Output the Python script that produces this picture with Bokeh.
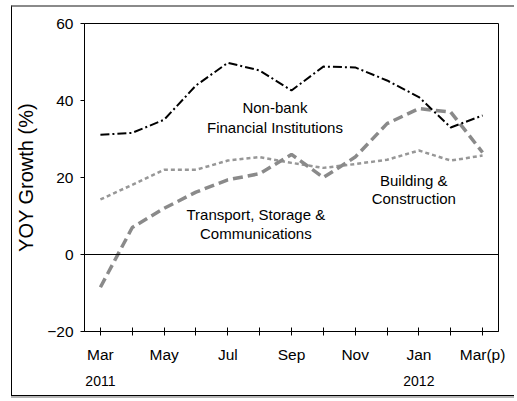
from bokeh.plotting import figure
from bokeh.models import Range1d, FixedTicker, LinearAxis, Span, ColumnDataSource
from bokeh.core.properties import value
from bokeh.embed import file_html
from bokeh.resources import INLINE

months = ["Mar", "Apr", "May", "Jun", "Jul", "Aug", "Sep", "Oct", "Nov", "Dec", "Jan", "Feb", "Mar(p)"]
month_idx = list(range(len(months)))
nonbank = [31.1, 31.6, 35.0, 43.9, 49.8, 47.8, 42.6, 48.8, 48.6, 45.2, 40.9, 33.0, 36.1]
transport = [-8.5, 7.0, 12.0, 16.2, 19.4, 21.0, 26.0, 20.0, 25.3, 34.0, 37.9, 37.0, 26.5]
building = [14.3, 18.1, 22.0, 22.0, 24.4, 25.3, 23.8, 22.5, 23.5, 24.6, 27.0, 24.4, 25.7]
month_labels = ["Mar", "", "May", "", "Jul", "", "Sep", "", "Nov", "", "Jan", "", "Mar(p)"]
year_labels = {0: "2011", 10: "2012"}
y_ticks = [-20, 0, 20, 40, 60]

FONT = "Liberation Sans"

p = figure(width=503, height=391, output_backend="svg", toolbar_location=None,
           x_range=Range1d(-0.5, 12.5), y_range=Range1d(-20, 60),
           min_border_left=71, min_border_right=17, min_border_top=16, min_border_bottom=67)
p.margin = (5, 0, 0, 11)
p.styles = {"border-top": "2px solid #8a8a8a", "border-left": "1px solid black",
            "border-bottom": "1px solid black", "box-shadow": "0 2px 0 #b5b5b5"}
p.xgrid.visible = False
p.ygrid.visible = False
p.outline_line_color = "black"
p.outline_line_width = 1
p.background_fill_color = "white"

src = ColumnDataSource(dict(x=month_idx, nonbank=nonbank, transport=transport, building=building))

p.line("x", "building", source=src, line_color="#979797", line_width=2.5, line_dash="4 3")
p.line("x", "transport", source=src, line_color="#8a8a8a", line_width=3.5, line_dash="10 5")
p.line("x", "nonbank", source=src, line_color="black", line_width=2, line_dash="9 3 2 3")

p.add_layout(Span(location=0, dimension="width", line_color="black", line_width=1))

# annotations
ann_x = [5.48, 5.48, 4.88, 4.88, 9.84, 9.84]
ann_y = [38.1, 33.1, 10.4, 5.4, 19.2, 14.5]
ann_t = ["Non-bank", "Financial Institutions", "Transport, Storage &", "Communications",
         "Building &", "Construction"]
p.text(x=ann_x, y=ann_y, text=ann_t, text_align="center", text_baseline="middle",
       text_font=value(FONT), text_font_size="15px", text_color="black")

# y axis
ya = p.yaxis[0]
ya.ticker = FixedTicker(ticks=y_ticks)
ya.minor_tick_line_color = None
ya.major_tick_out = 4
ya.major_tick_in = 0
ya.axis_line_color = "black"
ya.major_tick_line_color = "black"
ya.major_label_text_font = FONT
ya.major_label_text_font_size = "15.5px"
ya.major_label_text_color = "black"
ya.major_label_standoff = 7
ya.axis_label = "YOY Growth (%)"
ya.axis_label_text_font = FONT
ya.axis_label_text_font_size = "20px"
ya.axis_label_text_font_style = "normal"
ya.axis_label_text_color = "black"
ya.axis_label_standoff = 7

# x axis months
xa = p.xaxis[0]
xa.ticker = FixedTicker(ticks=month_idx)
xa.major_label_overrides = {i: lab for i, lab in zip(month_idx, month_labels)}
xa.minor_tick_line_color = None
xa.major_tick_out = 4
xa.major_tick_in = 4
xa.axis_line_color = "black"
xa.major_tick_line_color = "black"
xa.major_label_text_font = FONT
xa.major_label_text_font_size = "15.5px"
xa.major_label_text_color = "black"
xa.major_label_standoff = 10

# x axis years
ya2 = LinearAxis(ticker=FixedTicker(ticks=list(year_labels.keys())),
                 major_label_overrides=year_labels)
ya2.axis_line_color = None
ya2.major_tick_line_color = None
ya2.minor_tick_line_color = None
ya2.major_label_text_font = FONT
ya2.major_label_text_font_size = "14px"
ya2.major_label_text_color = "black"
ya2.major_label_standoff = 4
p.add_layout(ya2, "below")

open("out.html", "w").write(file_html(p, INLINE))
